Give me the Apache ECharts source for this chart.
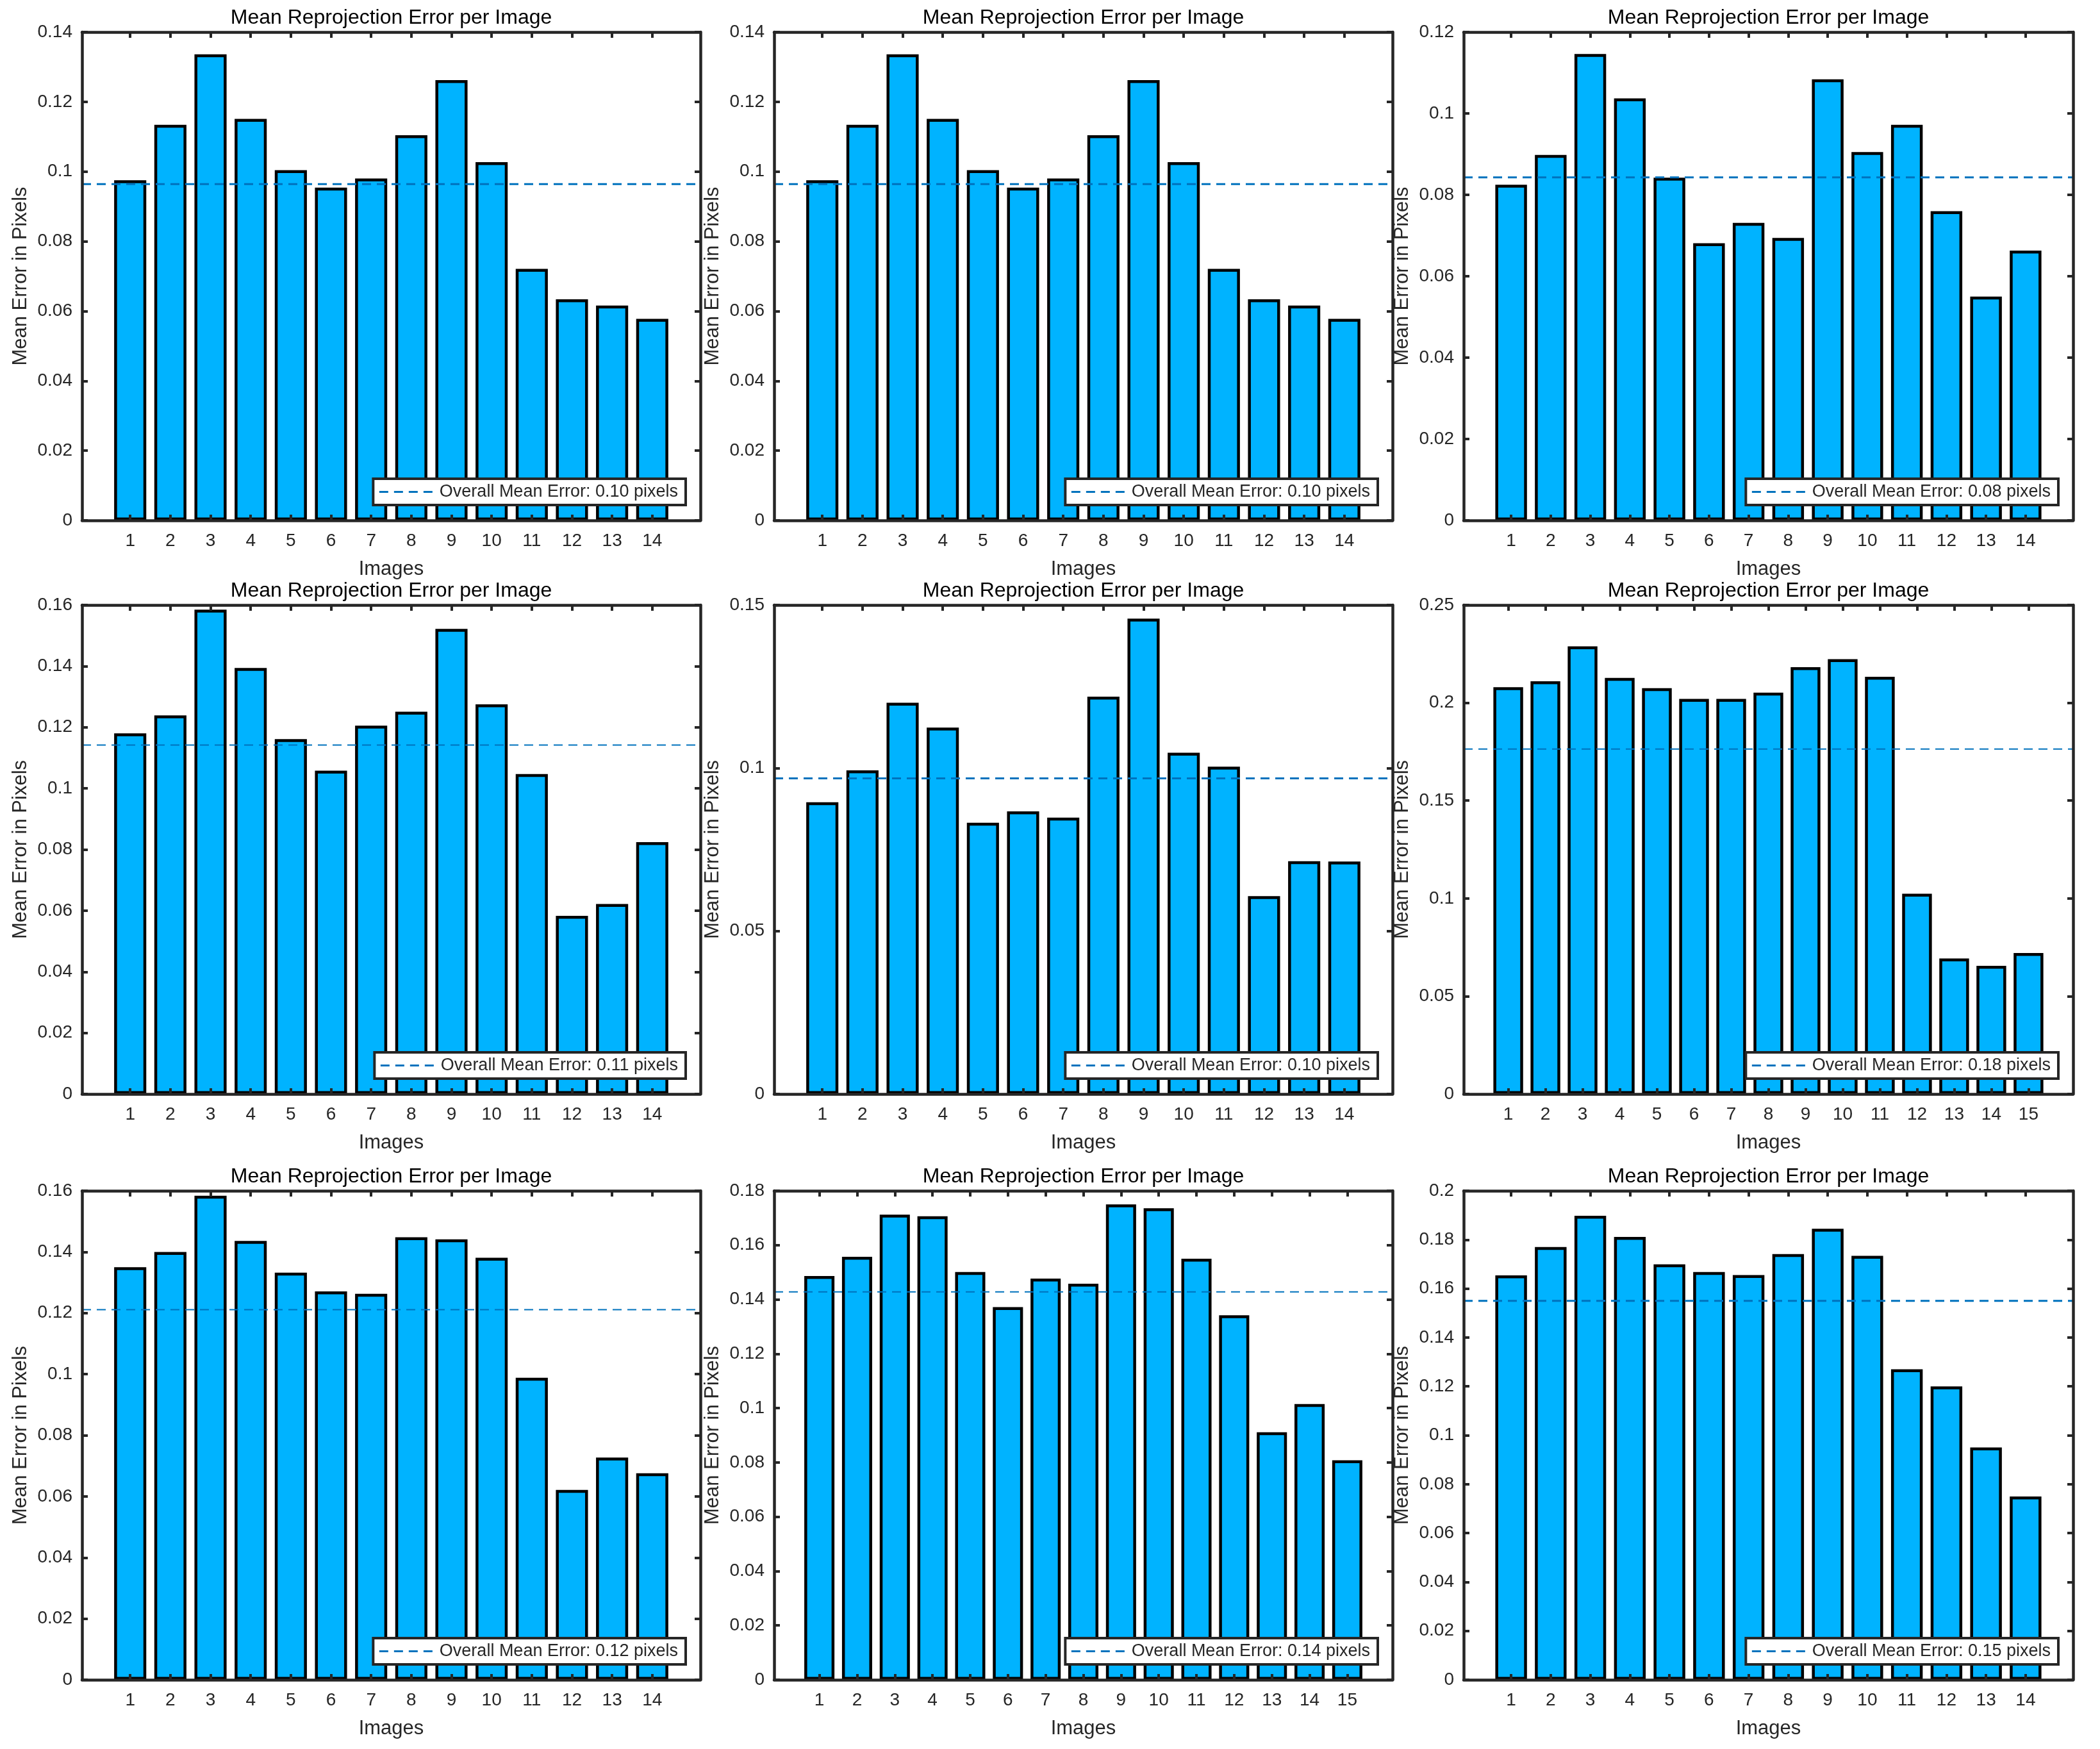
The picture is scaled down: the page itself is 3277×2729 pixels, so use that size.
<!DOCTYPE html>
<html>
<head>
<meta charset="utf-8">
<script src="https://cdn.jsdelivr.net/npm/echarts@6/dist/echarts.min.js"></script>
<style>
html,body{margin:0;padding:0;background:#fff;width:3277px;height:2729px;overflow:hidden;position:relative}
.panel{position:absolute}
</style>
</head>
<body>
<script>
// ---------- text ----------
const titleText = 'Mean Reprojection Error per Image';
const xAxisName = 'Images';
const yAxisName = 'Mean Error in Pixels';

// ---------- categories (image indices) ----------
const images14 = [1, 2, 3, 4, 5, 6, 7, 8, 9, 10, 11, 12, 13, 14];
const images15 = [1, 2, 3, 4, 5, 6, 7, 8, 9, 10, 11, 12, 13, 14, 15];

// ---------- per-image mean errors (pixels) ----------
const errors1 = [0.0975, 0.1134, 0.1336, 0.1151, 0.1004, 0.0954, 0.0980, 0.1104, 0.1262, 0.1027, 0.0721, 0.0634, 0.0616, 0.0578];
const errors2 = [0.0975, 0.1134, 0.1336, 0.1151, 0.1004, 0.0954, 0.0980, 0.1104, 0.1262, 0.1027, 0.0721, 0.0634, 0.0616, 0.0578];
const errors3 = [0.0825, 0.0898, 0.1146, 0.1037, 0.0842, 0.0681, 0.0731, 0.0694, 0.1084, 0.0905, 0.0972, 0.0760, 0.0550, 0.0663];
const errors4 = [0.1180, 0.1239, 0.1585, 0.1394, 0.1161, 0.1058, 0.1205, 0.1251, 0.1522, 0.1275, 0.1047, 0.0583, 0.0622, 0.0824];
const errors5 = [0.0895, 0.0993, 0.1200, 0.1124, 0.0832, 0.0867, 0.0848, 0.1219, 0.1458, 0.1047, 0.1004, 0.0607, 0.0714, 0.0713];
const errors6 = [0.2080, 0.2110, 0.2289, 0.2127, 0.2075, 0.2020, 0.2020, 0.2052, 0.2182, 0.2223, 0.2133, 0.1024, 0.0693, 0.0655, 0.0721];
const errors7 = [0.1350, 0.1400, 0.1584, 0.1436, 0.1332, 0.1271, 0.1263, 0.1448, 0.1441, 0.1381, 0.0988, 0.0621, 0.0727, 0.0676];
const errors8 = [0.1486, 0.1557, 0.1712, 0.1706, 0.1501, 0.1372, 0.1477, 0.1458, 0.1750, 0.1736, 0.1550, 0.1342, 0.0911, 0.1015, 0.0808];
const errors9 = [0.1654, 0.1770, 0.1898, 0.1811, 0.1699, 0.1668, 0.1655, 0.1741, 0.1845, 0.1734, 0.1270, 0.1200, 0.0950, 0.0750];

// ---------- overall means and legend texts ----------
const overallMeans = [0.0964, 0.0964, 0.0843, 0.1142, 0.0968, 0.1764, 0.1211, 0.1428, 0.1550];
const legendLabels = [
  'Overall Mean Error: 0.10 pixels',
  'Overall Mean Error: 0.10 pixels',
  'Overall Mean Error: 0.08 pixels',
  'Overall Mean Error: 0.11 pixels',
  'Overall Mean Error: 0.10 pixels',
  'Overall Mean Error: 0.18 pixels',
  'Overall Mean Error: 0.12 pixels',
  'Overall Mean Error: 0.14 pixels',
  'Overall Mean Error: 0.15 pixels'
];

// ---------- y axis ranges ----------
const yMaxes = [0.14, 0.14, 0.12, 0.16, 0.15, 0.25, 0.16, 0.18, 0.2];
const yIntervals = [0.02, 0.02, 0.02, 0.02, 0.05, 0.05, 0.02, 0.02, 0.02];

const panelCategories = [images14, images14, images14, images14, images14, images15, images14, images15, images14];
const panelErrors = [errors1, errors2, errors3, errors4, errors5, errors6, errors7, errors8, errors9];

// ---------- layout (pixels) ----------
const colLeft = [128, 1208, 2284];
const colRight = [1093, 2173, 3235];
const rowTop = [50, 944, 1858];
const rowBottom = [812, 1707, 2621];
const MX = 125, MT = 50, MB = 100;
const meanLineWidths = [3, 3, 3, 2, 3, 2, 2, 2, 3];

const FONT = "'Liberation Sans', Arial, Helvetica, sans-serif";
const AX = '#262626';

for (let i = 0; i < 9; i++) {
  const c = i % 3, r = Math.floor(i / 3);
  const plotW = colRight[c] - colLeft[c];
  const plotH = rowBottom[r] - rowTop[r];
  const div = document.createElement('div');
  div.className = 'panel';
  div.style.left = (colLeft[c] - MX) + 'px';
  div.style.top = (rowTop[r] - MT) + 'px';
  div.style.width = (plotW + 2 * MX) + 'px';
  div.style.height = (plotH + MT + MB) + 'px';
  document.body.appendChild(div);

  const cats = panelCategories[i];
  const errs = panelErrors[i];
  const N = cats.length;
  const xMin = -0.2, xMax = N + 1.2;
  const barW = 0.8 * plotW / (xMax - xMin);

  const axisLine = { show: true, onZero: false, lineStyle: { color: AX, width: 4.5 } };
  const axisTick = { show: true, inside: true, length: 9, lineStyle: { color: AX, width: 4 } };
  const yFmt = v => String(+v.toFixed(4));

  const chart = echarts.init(div, null, { renderer: 'canvas' });
  chart.setOption({
    animation: false,
    textStyle: { fontFamily: FONT },
    title: {
      text: titleText, left: 'center', top: 12, padding: 0,
      textStyle: { fontFamily: FONT, fontSize: 32, fontWeight: 'normal', color: '#000', lineHeight: 32 }
    },
    grid: { left: MX, right: MX, top: MT, bottom: MB, containLabel: false },
    legend: {
      data: [legendLabels[i]],
      selectedMode: false,
      right: MX + 23, bottom: MB + 24,
      orient: 'horizontal',
      itemWidth: 89, itemHeight: 14,
      padding: [7, 12, 7, 8],
      backgroundColor: '#fff', borderColor: AX, borderWidth: 4, borderRadius: 0,
      itemStyle: { opacity: 0, borderWidth: 0 },
      lineStyle: { color: '#0072BD', width: 3, type: [14, 9] },
      textStyle: { fontFamily: FONT, fontSize: 27, color: AX }
    },
    xAxis: [
      {
        type: 'value', position: 'bottom', min: xMin, max: xMax, z: 3,
        name: xAxisName, nameLocation: 'middle', nameGap: 61,
        nameTextStyle: { fontFamily: FONT, fontSize: 31, color: AX },
        axisLine: axisLine,
        axisTick: Object.assign({ customValues: cats }, axisTick),
        axisLabel: { show: true, customValues: cats, margin: 18, fontFamily: FONT, fontSize: 28, color: AX },
        splitLine: { show: false }
      },
      {
        type: 'value', position: 'top', min: xMin, max: xMax, z: 3,
        axisLine: axisLine,
        axisTick: Object.assign({ customValues: cats }, axisTick),
        axisLabel: { show: false },
        splitLine: { show: false }
      }
    ],
    yAxis: [
      {
        type: 'value', position: 'left', min: 0, max: yMaxes[i], interval: yIntervals[i], z: 3,
        name: yAxisName, nameLocation: 'middle', nameGap: 80,
        nameTextStyle: { fontFamily: FONT, fontSize: 31, color: AX },
        axisLine: axisLine, axisTick: axisTick,
        axisLabel: { margin: 15, fontFamily: FONT, fontSize: 28, color: AX, formatter: yFmt },
        splitLine: { show: false }
      },
      {
        type: 'value', position: 'right', min: 0, max: yMaxes[i], interval: yIntervals[i], z: 3,
        axisLine: axisLine, axisTick: axisTick,
        axisLabel: { show: false },
        splitLine: { show: false }
      }
    ],
    series: [
      {
        type: 'bar', xAxisIndex: 0, yAxisIndex: 0,
        data: cats.map((cat, k) => [cat, errs[k]]),
        barWidth: barW,
        itemStyle: { color: '#00B3FF', borderColor: '#000', borderWidth: 4.5 },
        z: 2
      },
      {
        type: 'line', name: legendLabels[i], xAxisIndex: 0, yAxisIndex: 0,
        data: [[xMin, overallMeans[i]], [xMax, overallMeans[i]]],
        symbol: 'none',
        itemStyle: { opacity: 0 },
        lineStyle: { color: '#0072BD', width: meanLineWidths[i], type: [14, 9] },
        z: 2
      }
    ]
  });
}
</script>
</body>
</html>
